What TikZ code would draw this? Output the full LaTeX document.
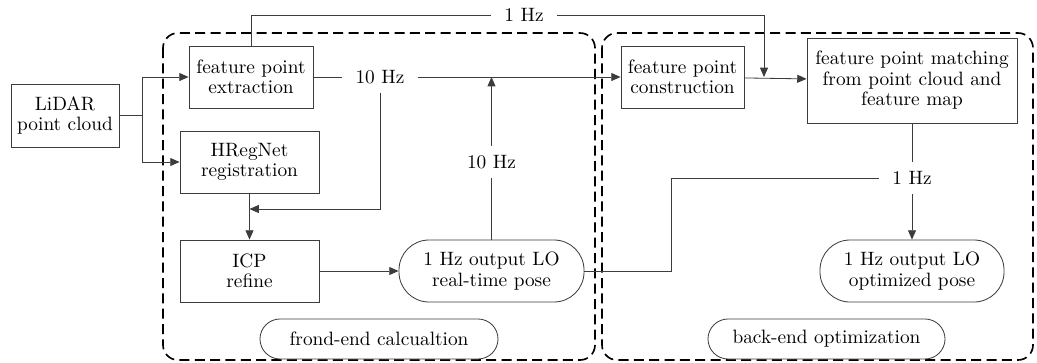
\documentclass[tikz,border=0pt]{standalone}
\usepackage{fontspec}
\setmainfont{lmroman10-regular}[Extension=.otf]
\usepackage{tikz}
\usetikzlibrary{arrows.meta, positioning}
\definecolor{inkline}{RGB}{60, 60, 60}
\tikzset{
    blk/.style  ={draw=inkline, line width=0.7pt, fill=white,
                  minimum width=3.7cm, minimum height=1.86cm,
                  align=center, inner sep=1pt},
    pill/.style ={blk, rounded corners=0.9cm},
    tag/.style  ={blk, minimum height=1.2cm, rounded corners=0.6cm},
    frame/.style={draw=black, line width=1.4pt,
                  dash pattern=on 0.3cm off 0.16cm, rounded corners=0.45cm},
    ar/.style   ={-{Triangle[length=2.8mm, width=2.4mm]}, line width=0.7pt, draw=inkline},
    ln/.style   ={line width=0.7pt, draw=inkline},
    lbl/.style  ={inner xsep=0.4cm, inner ysep=0.28cm}
}

\begin{document}
\begin{tikzpicture}[x=0.03cm, y=-0.03cm, font=\fontsize{16.5}{17.5}\selectfont]
  \useasboundingbox (0,0) rectangle (1037,362);

  % ---- the two stages
  \draw[frame] (163,33) rectangle (595,360);
  \draw[frame] (602,33) rectangle (1033,360);

  % ---- input
  \node[blk, minimum width=3.24cm, minimum height=1.89cm] (lidar) at (65,115.5)
       {LiDAR\\point cloud};

  % ---- front end
  \node[blk, minimum width=3.72cm] (fpe)  at (251,77)    {feature point\\extraction};
  \node[blk, minimum width=4.17cm] (hreg) at (249.5,162) {HRegNet\\registration};
  \node[blk, minimum width=4.17cm] (icp)  at (249.5,271) {ICP\\refine};
  \node[pill, minimum width=5.55cm] (rtpose) at (491.5,271)
       {1 Hz output LO\\real-time pose};
  \node[tag, minimum width=7.14cm] (fecalc) at (379,339) {frond-end calcualtion};

  % ---- back end
  \node[blk, minimum width=3.69cm] (fpc) at (682.5,77) {feature point\\construction};
  \node[blk, minimum width=6.3cm, minimum height=2.55cm] (fpm) at (912,80.5)
       {feature point matching\\from point cloud and\\feature map};
  \node[pill, minimum width=5.52cm] (optpose) at (912,271)
       {1 Hz output LO\\optimized pose};
  \node[tag, minimum width=7.11cm] (becalc) at (826.5,339) {back-end optimization};

  % ---- rate labels
  \node[lbl] (hzA) at (524,15)    {1 Hz};
  \node[lbl] (hzB) at (380,77)    {10 Hz};
  \node[lbl] (hzC) at (491.5,162) {10 Hz};
  \node[lbl] (hzD) at (912,178)   {1 Hz};

  % ---- turning points
  \coordinate (split) at (142,115.5);
  \coordinate (merge) at (764,77);
  \coordinate (join)  at (491.5,77);
  \coordinate (fb)    at (249.5,209);
  \coordinate (kink)  at (671,178);

  % ---- connectors
  \draw[ln] (lidar.east) -- (split);
  \draw[ar] (split) |- (fpe.west);
  \draw[ar] (split) |- (hreg.west);
  \draw[ln] (fpe.north) |- (hzA);
  \draw[ar] (hzA) -| (merge);
  \draw[ln] (fpe) -- (hzB);
  \draw[ar] (hzB) -- (fpc);
  \draw[ar] (hzB) |- (fb);
  \draw[ar] (hreg) -- (icp);
  \draw[ar] (icp) -- (rtpose);
  \draw[ln] (rtpose) -- (hzC);
  \draw[ar] (hzC) -- (join);
  \draw[ar] (fpc) -- (fpm);
  \draw[ln] (fpm) -- (hzD);
  \draw[ar] (hzD) -- (optpose);
  \draw[ln] (rtpose.east) -| (kink) -- (hzD);
\end{tikzpicture}
\end{document}
